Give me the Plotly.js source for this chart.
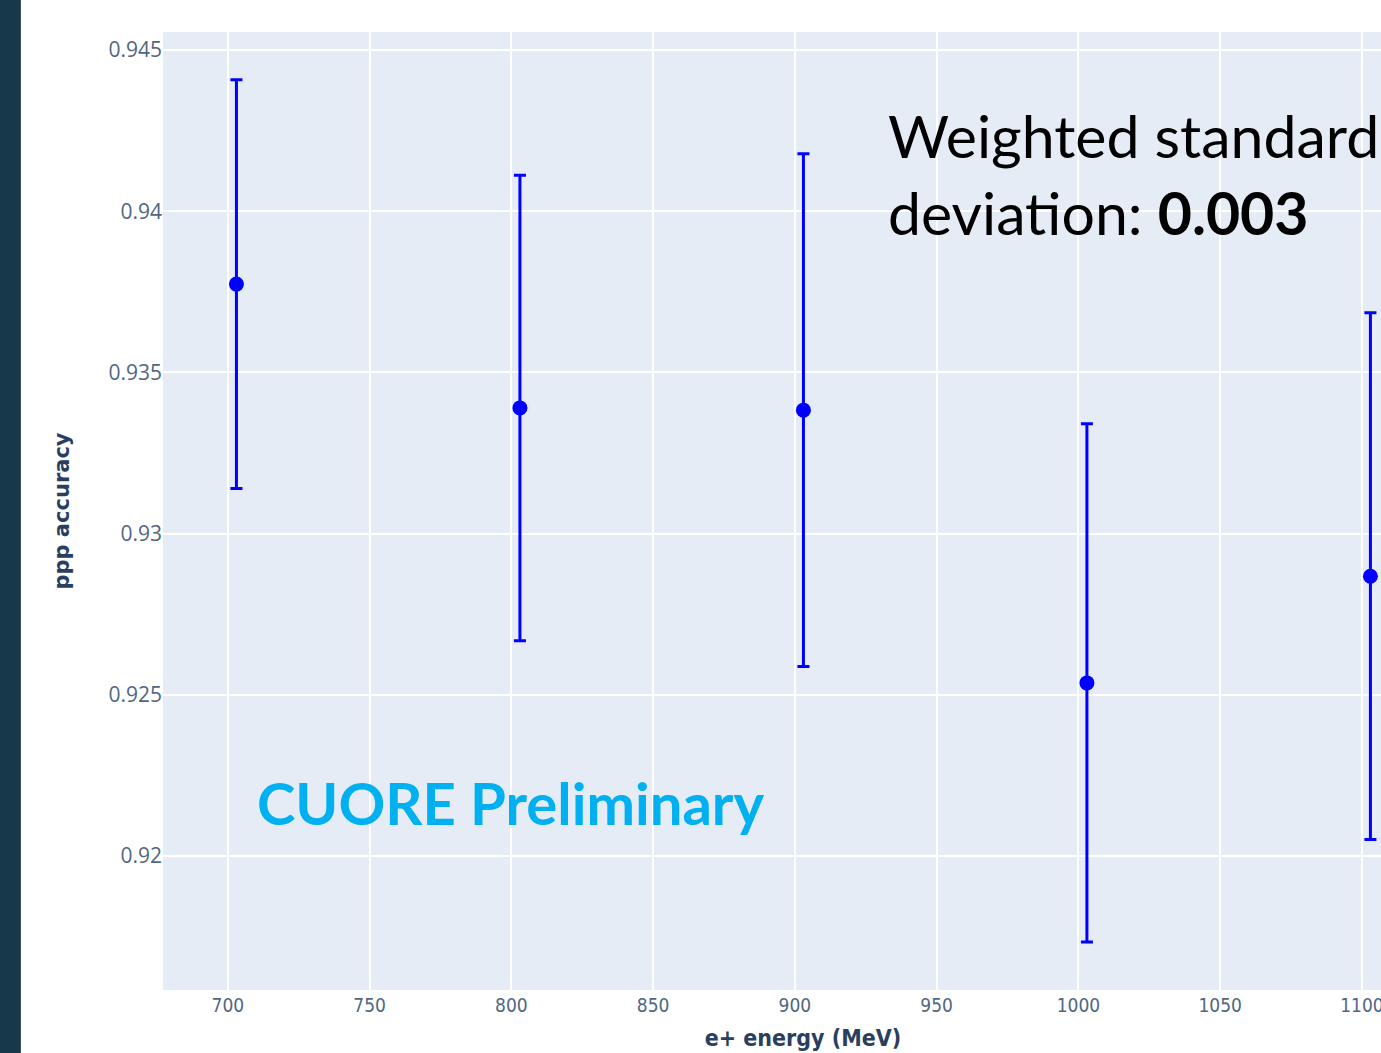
<!DOCTYPE html>
<html>
<head>
<meta charset="utf-8">
<script src="https://cdn.plot.ly/plotly-3.0.1.min.js"></script>
<style>
html,body{margin:0;padding:0;width:1381px;height:1053px;overflow:hidden;background:#fff;}
#strip{position:absolute;left:0;top:0;width:20px;height:1053px;background:#17374b;border-right:1px solid #3b5566;z-index:5;}
#chart{position:absolute;left:0;top:0;width:1443px;height:1080px;}
</style>
</head>
<body>
<div id="strip"></div>
<div id="chart"></div>
<script>
const energies = [703, 803, 903, 1003, 1103];
const accuracy = [0.93774, 0.93390, 0.93383, 0.92537, 0.92868];
const errors = [0.00634, 0.00722, 0.00795, 0.00804, 0.00817];
const yTicks = [0.92, 0.925, 0.93, 0.935, 0.94, 0.945];
const yTickText = ['0.92', '0.925', '0.93', '0.935', '0.94', '0.945'];
const xTicks = [700, 750, 800, 850, 900, 950, 1000, 1050, 1100];

const trace = {
  x: energies,
  y: accuracy,
  type: 'scatter',
  mode: 'markers',
  marker: {color: '#0000ff', size: 15},
  error_y: {type: 'data', array: errors, visible: true, color: '#0000ff', thickness: 3, width: 6},
  cliponaxis: false
};

const layout = {
  width: 1443,
  height: 1080,
  margin: {l: 163, r: 0, t: 32, b: 90},
  paper_bgcolor: '#ffffff',
  plot_bgcolor: '#e5ecf6',
  showlegend: false,
  font: {family: 'Open Sans, sans-serif', color: '#506784', size: 17},
  xaxis: {
    range: [677.1, 1128.6],
    tickvals: xTicks,
    ticktext: xTicks.map(String),
    gridcolor: '#ffffff',
    gridwidth: 2,
    zeroline: false,
    showline: false,
    ticks: '',
    ticklabelstandoff: 2,
    tickfont: {family: 'DejaVu Sans Condensed, sans-serif', size: 19, color: '#506784'},
    title: {text: '<b>e+ energy (MeV)</b>', font: {size: 23, color: '#2a3f5f', family: 'DejaVu Sans Condensed, sans-serif'}, standoff: 14},
    automargin: false
  },
  yaxis: {
    range: [0.915844, 0.94556],
    tickvals: yTicks,
    ticktext: yTickText,
    gridcolor: '#ffffff',
    gridwidth: 2,
    zeroline: false,
    showline: false,
    ticks: '',
    tickfont: {family: 'Open Sans, sans-serif', size: 21, color: '#506784'},
    title: {text: '<b>ppp accuracy</b>', font: {size: 21, color: '#2a3f5f', family: 'DejaVu Sans, sans-serif'}, standoff: 33},
    automargin: false
  },
  annotations: [
    {
      xref: 'x', yref: 'y', x: 932.2, y: 0.9435,
      xanchor: 'left', yanchor: 'top', align: 'left',
      showarrow: false,
      text: 'Weighted standard<br>deviation: <b>0.003</b>',
      font: {family: 'Lato, sans-serif', size: 59, color: '#000000'}
    },
    {
      xref: 'x', yref: 'y', x: 709.5, y: 0.9228,
      xanchor: 'left', yanchor: 'top', align: 'left',
      showarrow: false,
      text: '<b>CUORE Preliminary</b>',
      font: {family: 'Lato, sans-serif', size: 58, color: '#00b0f0'}
    }
  ]
};

Plotly.newPlot('chart', [trace], layout, {displayModeBar: false, staticPlot: true});
</script>
</body>
</html>
